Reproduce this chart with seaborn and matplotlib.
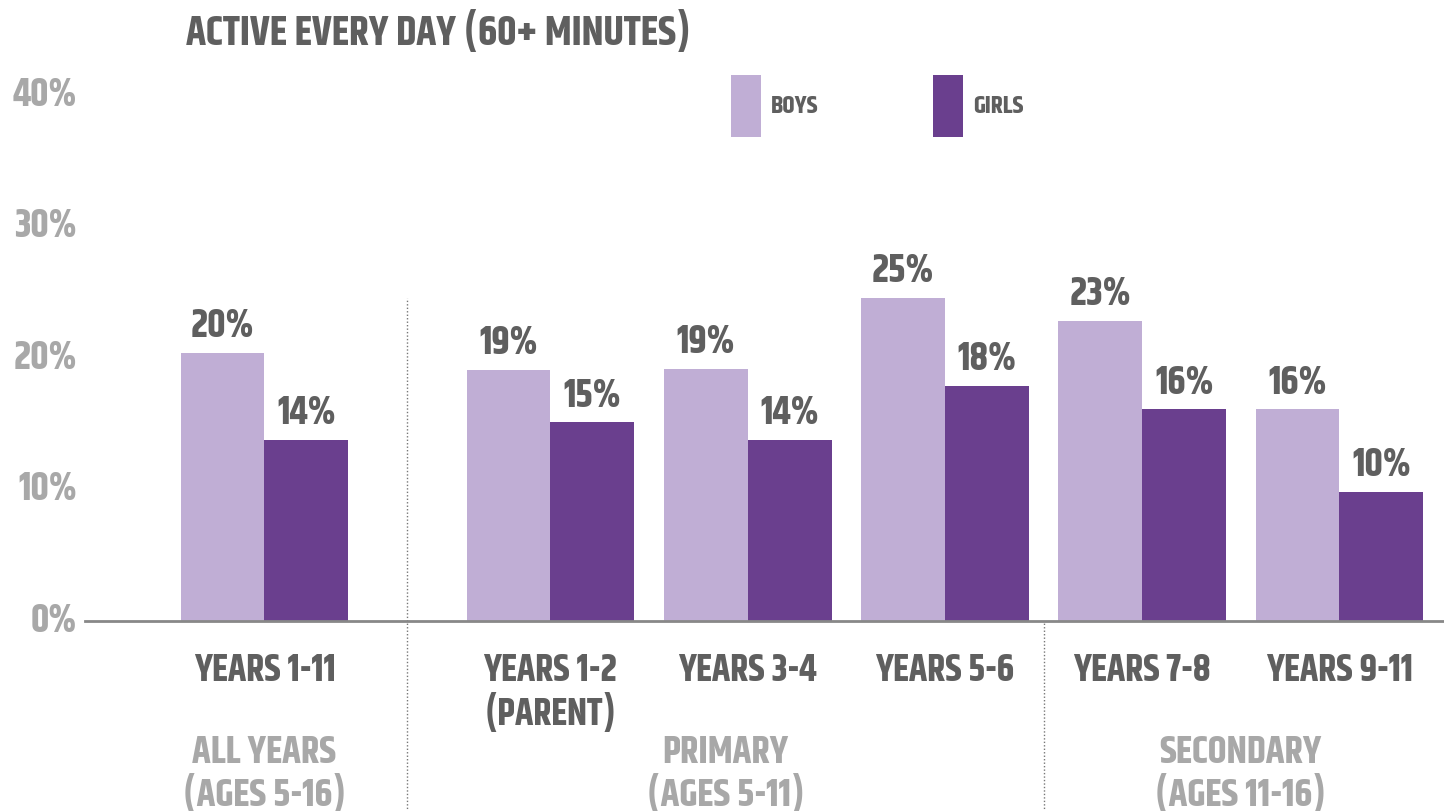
import matplotlib
matplotlib.use("Agg")
import matplotlib.pyplot as plt
import matplotlib.transforms as mtransforms
import seaborn as sns
import pandas as pd

# data
years = ["YEARS 1-11", "YEARS 1-2\n(PARENT)", "YEARS 3-4", "YEARS 5-6", "YEARS 7-8", "YEARS 9-11"]
boys = [20.4, 19.1, 19.2, 24.6, 22.8, 16.1]
girls = [13.8, 15.1, 13.8, 17.9, 16.1, 9.8]
groups = ["ALL YEARS\n(AGES 5-16)", "PRIMARY\n(AGES 5-11)", "SECONDARY\n(AGES 11-16)"]
yticks = [0, 10, 20, 30, 40]

# x layout: extra gap after the first group
xpos = [0, 1.45, 2.45, 3.45, 4.45, 5.45]

LIGHT = "#c0aed5"
DARK = "#6a3f8e"
TXT = "#5f5f5f"
GRAY = "#a8a8a8"

sns.set_theme(style="white")
plt.rcParams["font.family"] = ["Khand", "DejaVu Sans"]
plt.rcParams["font.weight"] = "bold"

df = pd.DataFrame({
    "x": xpos * 2,
    "val": boys + girls,
    "sex": ["BOYS"] * len(boys) + ["GIRLS"] * len(girls),
})

fig = plt.figure(figsize=(14.44, 8.11), dpi=100)
ax = fig.add_axes([85 / 1444, 1 - 621 / 811, 1 - 85 / 1444, (621 - 95) / 811])

sns.barplot(data=df, x="x", y="val", hue="sex", native_scale=True,
            palette=[LIGHT, DARK], width=0.85, saturation=1, ax=ax,
            errorbar=None, legend=True, linewidth=0)

for c in ax.containers:
    ax.bar_label(c, fmt="{:.0f}%", padding=7, fontsize=28, color=TXT, fontweight="bold")

ax.set_xlim(-0.91, 5.98)
ax.set_ylim(0, 40)
ax.set_yticks(yticks, [f"{v}%" for v in yticks])
ax.tick_params(axis="y", labelsize=28, labelcolor=GRAY, pad=6, length=0)
for lab in ax.get_yticklabels():
    lab.set_transform(lab.get_transform() + mtransforms.ScaledTranslation(0, 3 / 72, fig.dpi_scale_trans))
ax.set_xticks(xpos, years)
ax.tick_params(axis="x", labelsize=27, labelcolor=TXT, pad=22, length=0)
for lab in ax.get_xticklabels():
    lab.set_verticalalignment("top")
    lab.set_linespacing(1.15)
ax.set_xlabel("")
ax.set_ylabel("")

sns.despine(ax=ax, left=True, top=True, right=True)
ax.spines["bottom"].set_color("#888888")
ax.spines["bottom"].set_linewidth(2)

# dotted separators between school stages
sep1 = (xpos[0] + xpos[1]) / 2
sep2 = (xpos[3] + xpos[4]) / 2
ax.axvline(sep1, ymin=-0.37, ymax=24.6 / 40, color="#777777", ls=(0, (1, 1.5)), lw=1, clip_on=False)
ax.axvline(sep2, ymin=-0.37, ymax=0, color="#777777", ls=(0, (1, 1.5)), lw=1, clip_on=False)

# stage labels under the year labels
trans = mtransforms.blended_transform_factory(ax.transData, ax.transAxes)
centers = [xpos[0], (sep1 + sep2) / 2, (xpos[4] + xpos[5]) / 2]
for cx, g in zip(centers, groups):
    ax.text(cx, -0.29, g, transform=trans, ha="center", va="center",
            fontsize=27.5, color=GRAY, linespacing=1.1, fontweight="bold")

fig.text(186 / 1444, 1 - 30 / 811, "ACTIVE EVERY DAY (60+ MINUTES)", ha="left", va="center",
         fontsize=29.5, color=TXT, fontweight="bold")

leg = ax.legend(loc="upper left", bbox_to_anchor=((708 - 85) / (1444 - 85), 1.08),
                ncol=2, frameon=False, fontsize=18, handlelength=1.2, handleheight=3.4,
                columnspacing=4.6, handletextpad=0.4)
for t in leg.get_texts():
    t.set_color(TXT)

fig.savefig("out.png", dpi=100)
